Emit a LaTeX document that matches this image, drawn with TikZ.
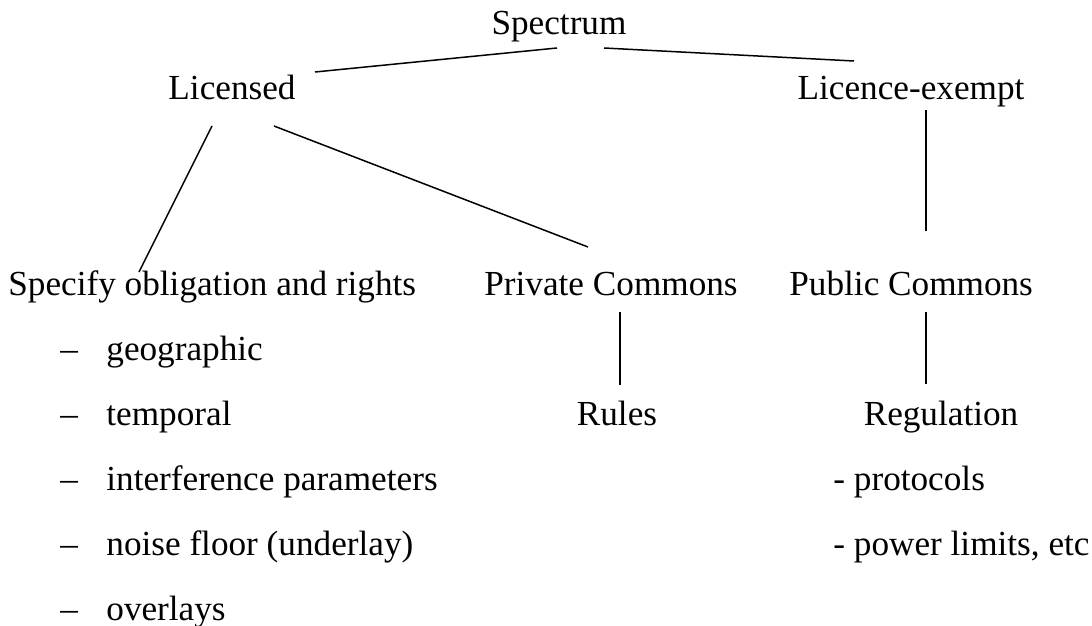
\documentclass[tikz,border=0pt]{standalone}
\usepackage{fontspec}
\setmainfont{Liberation Serif}
\begin{document}
\begin{tikzpicture}[x=0.5pt,y=-0.5pt,
    lbl/.style={inner sep=0pt, anchor=base, font=\fontsize{17.6}{21}\selectfont},
    item/.style={lbl, anchor=base west},
    link/.style={line width=0.75pt}]
    \useasboundingbox (0,0) rectangle (1092,626);
    % 1. top levels
    \node[lbl] (spectrum) at (559,35) {Spectrum};
    \node[lbl] (licensed) at (232,100) {Licensed};
    \node[lbl] (exempt) at (911,100) {Licence-exempt};
    % 2. third row
    \node[item] (specify) at (8,295) {Specify obligation and rights};
    \node[item] (private) at (484,295) {Private Commons};
    \node[item] (public) at (789,295) {Public Commons};
    \node[lbl] (rules) at (617,425) {Rules};
    \node[lbl] (regulation) at (941,425) {Regulation};
    % 3. lists
    \foreach \txt [count=\i] in {geographic, temporal, interference parameters, noise floor (underlay), overlays} {
        \node[item] (dash\i) at (60,360+65*\i-65) {--};
        \node[item] (obl\i) at (106,360+65*\i-65) {\txt};
    }
    \node[item] (proto) at (833,490) {- protocols};
    \node[item] (power) at (833,555) {- power limits, etc};
    % 4. line ends
    \coordinate (sp-l) at (557,48);
    \coordinate (sp-r) at (604,48);
    \coordinate (li-t) at (315,72);
    \coordinate (ex-t) at (854,61);
    \coordinate (li-a) at (212,126);
    \coordinate (li-b) at (274,126);
    \coordinate (sp-e) at (139,272);
    \coordinate (pr-e) at (588,247);
    \coordinate (ex-b) at (926,110);
    \coordinate (pu-e) at (926,231);
    \coordinate (pr-b) at (620,312);
    \coordinate (ru-t) at (620,385);
    \coordinate (pu-b) at (926,312);
    \coordinate (re-t) at (926,384);
    % 5. connectors
    \draw[link] (sp-l) -- (li-t);
    \draw[link] (sp-r) -- (ex-t);
    \draw[link] (li-a) -- (sp-e);
    \draw[link] (li-b) -- (pr-e);
    \draw[link] (ex-b) -- (pu-e);
    \draw[link] (pr-b) -- (ru-t);
    \draw[link] (pu-b) -- (re-t);
\end{tikzpicture}
\end{document}
